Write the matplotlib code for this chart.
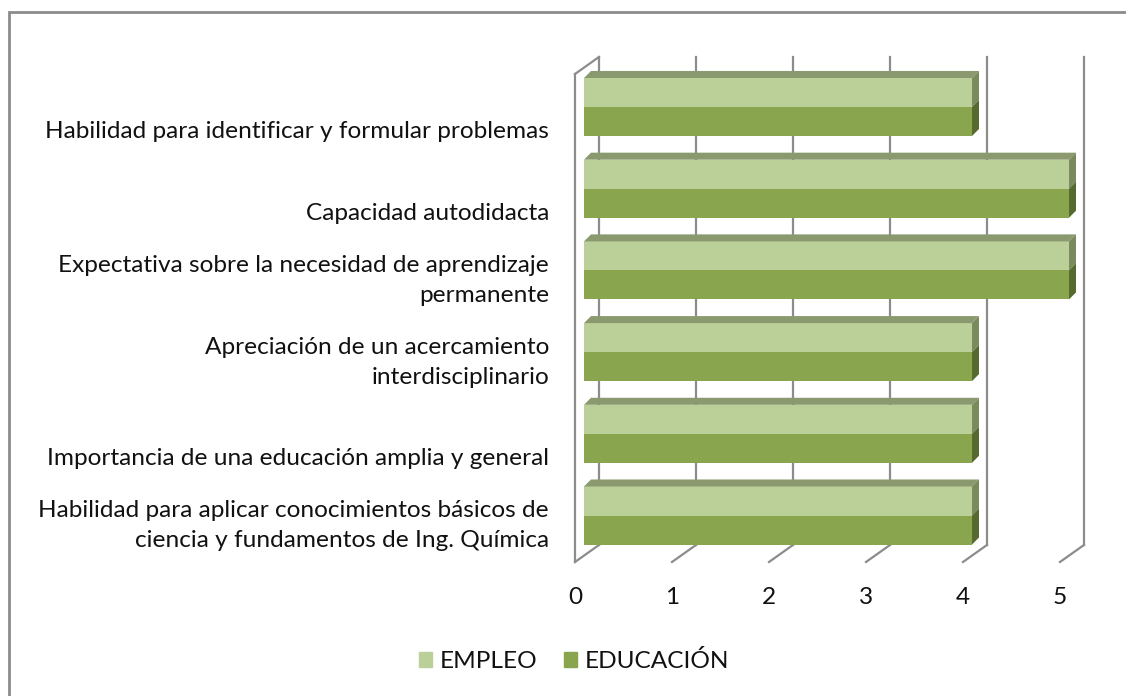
import numpy as np
import matplotlib
matplotlib.use("Agg")
import matplotlib.pyplot as plt
from matplotlib.patches import Polygon, Patch, Rectangle

plt.rcParams['font.family'] = ['Lato', 'DejaVu Sans']

# data
categorias = [
    "Habilidad para identificar y formular problemas",
    "Capacidad autodidacta",
    "Expectativa sobre la necesidad de aprendizaje\npermanente",
    "Apreciación de un acercamiento\ninterdisciplinario",
    "Importancia de una educación amplia y general",
    "Habilidad para aplicar conocimientos básicos de\nciencia y fundamentos de Ing. Química",
]
empleo = [4, 5, 5, 4, 4, 4]
educacion = [4, 5, 5, 4, 4, 4]
ticks = [0, 1, 2, 3, 4, 5]

# colours
c_emp = "#BBCF98"
c_edu = "#89A54E"
c_top = "#8A9A6E"
c_side_emp = "#7A8A5C"
c_side_edu = "#56692E"
c_grid = "#8C8C8C"
fs = 17.6

fig = plt.figure(figsize=(11.26, 6.96), dpi=100)
ax = fig.add_axes([0, 0, 1, 1])
# one value unit ~ 97px, one category ~ 81.7px
ax.set_xlim(-575 / 97, 551 / 97)
ax.set_ylim(589 / 81.7, -107 / 81.7)
ax.axis("off")

n = len(categorias)
y = np.arange(n)
h = 0.355            # half of a bar front face
b0 = 0.093           # bar front offset from wall
dxb, dyb = 0.072, 0.086   # bar depth
dxw, dyw = 0.247, 0.208   # wall depth
wall_top, floor = -0.404, 5.569

# back wall grid + floor marks
for k in ticks:
    ax.plot([k + dxw, k + dxw], [wall_top - dyw, floor - dyw], color=c_grid, lw=1.6, zorder=1)
    ax.plot([k, k + dxw], [floor, floor - dyw], color=c_grid, lw=1.6, zorder=1)
# left wall
ax.plot([0, 0], [wall_top, floor], color=c_grid, lw=1.6, zorder=1)
ax.plot([0, dxw], [wall_top, wall_top - dyw], color=c_grid, lw=1.6, zorder=1)

# bars
ax.barh(y - h / 2, empleo, height=h, left=b0, color=c_emp, zorder=3)
ax.barh(y + h / 2, educacion, height=h, left=b0, color=c_edu, zorder=3)
for i in range(n):
    ve, vd = empleo[i], educacion[i]
    top = y[i] - h
    ax.add_patch(Polygon([(b0, top), (b0 + dxb, top - dyb), (b0 + ve + dxb, top - dyb), (b0 + ve, top)],
                         closed=True, color=c_top, lw=0, zorder=3))
    ax.add_patch(Polygon([(b0 + ve, top), (b0 + ve + dxb, top - dyb), (b0 + ve + dxb, y[i] - dyb), (b0 + ve, y[i])],
                         closed=True, color=c_side_emp, lw=0, zorder=3))
    ax.add_patch(Polygon([(b0 + vd, y[i]), (b0 + vd + dxb, y[i] - dyb), (b0 + vd + dxb, y[i] + h - dyb), (b0 + vd, y[i] + h)],
                         closed=True, color=c_side_edu, lw=0, zorder=3))
    # category label, baseline at bar bottom
    ax.text(-0.268, y[i] + h + 0.03, categorias[i], ha="right", va="baseline",
            fontsize=fs, color="#111111", linespacing=1.5)

for k in ticks:
    ax.text(k, floor + 0.43, str(k), ha="center", va="center", fontsize=fs, color="#111111")

handles = [Patch(color=c_emp, label="EMPLEO"), Patch(color=c_edu, label="EDUCACIÓN")]
fig.legend(handles=handles, loc="center", bbox_to_anchor=(574 / 1126, 1 - 661 / 696), ncol=2,
           frameon=False, fontsize=fs, handlelength=0.55, handleheight=0.55,
           handletextpad=0.3, columnspacing=1.1, labelcolor="#111111")

fig.add_artist(Rectangle((9 / 1126, -0.1), 1.2, 1.1 - 12 / 696, transform=fig.transFigure,
                         fill=False, ec="#8C8C8C", lw=2))

fig.savefig("out.png", dpi=100)
